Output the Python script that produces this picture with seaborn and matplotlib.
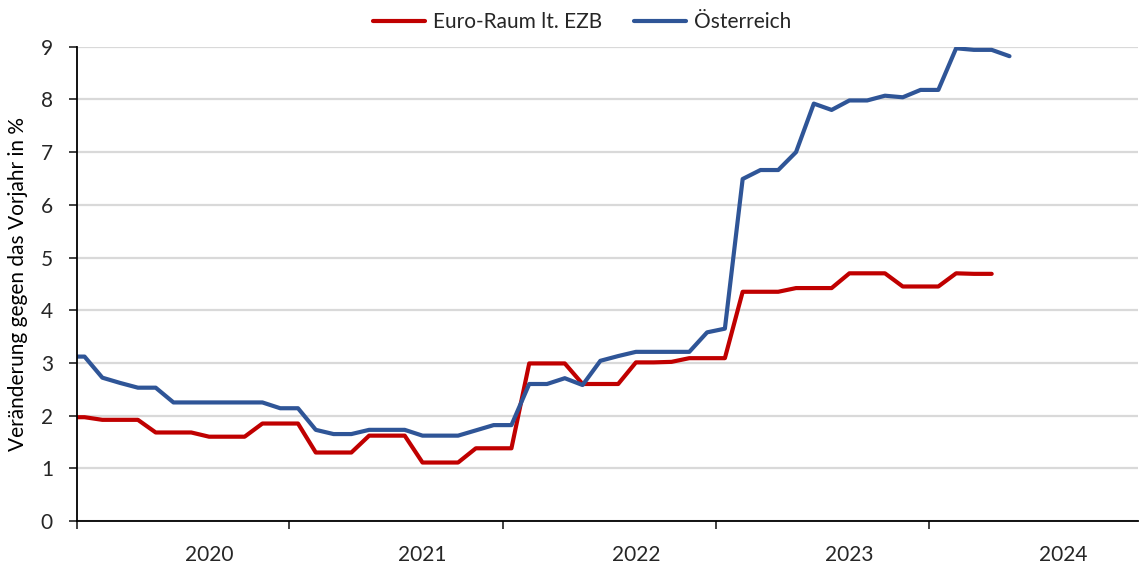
import pandas as pd
import seaborn as sns
import matplotlib.pyplot as plt
import numpy as np

# monthly index, 0 = first full month shown, year boundaries fall at 11.5, 23.5, ...
blue_vals = [3.12, 3.12, 2.72, 2.62, 2.53, 2.53, 2.25, 2.25, 2.25, 2.25, 2.25, 2.25,
             2.14, 2.14, 1.73, 1.65, 1.65, 1.73, 1.73, 1.73, 1.62, 1.62, 1.62, 1.72,
             1.82, 1.82, 2.60, 2.60, 2.71, 2.58, 3.04, 3.13, 3.21, 3.21, 3.21, 3.21,
             3.58, 3.65, 6.49, 6.66, 6.66, 7.00, 7.92, 7.80, 7.98, 7.98, 8.07, 8.04,
             8.18, 8.18, 8.97, 8.94, 8.94, 8.82]
red_vals = [1.97, 1.97, 1.92, 1.92, 1.92, 1.68, 1.68, 1.68, 1.60, 1.60, 1.60, 1.85,
            1.85, 1.85, 1.30, 1.30, 1.30, 1.62, 1.62, 1.62, 1.11, 1.11, 1.11, 1.38,
            1.38, 1.38, 2.99, 2.99, 2.99, 2.60, 2.60, 2.60, 3.01, 3.01, 3.02, 3.09,
            3.09, 3.09, 4.35, 4.35, 4.35, 4.42, 4.42, 4.42, 4.70, 4.70, 4.70, 4.45,
            4.45, 4.45, 4.70, 4.69, 4.69]
first_month = -1
years = ["2020", "2021", "2022", "2023", "2024"]
series_names = ["Euro-Raum lt. EZB", "Österreich"]

df = pd.concat([
    pd.DataFrame({"Monat": np.arange(first_month, first_month + len(red_vals)),
                  "Wert": red_vals, "Reihe": series_names[0]}),
    pd.DataFrame({"Monat": np.arange(first_month, first_month + len(blue_vals)),
                  "Wert": blue_vals, "Reihe": series_names[1]}),
])

sns.set_style("white")
plt.rcParams["font.family"] = ["Lato", "DejaVu Sans"]

my_pal = {series_names[0]: "#C00000", series_names[1]: "#2F5597"}

f, ax = plt.subplots(figsize=(11.39, 5.64), dpi=100)
f.subplots_adjust(left=0.0672, right=0.9995, bottom=0.0762, top=0.9172)

ax.grid(axis="y", color="#D9D9D9", linewidth=1.6)
ax.set_axisbelow(True)

sns.lineplot(data=df, x="Monat", y="Wert", hue="Reihe", palette=my_pal,
             linewidth=3, ax=ax, legend=False)
for ln in ax.lines:
    ln.set_solid_joinstyle("round")

ax.set_xlim(-0.45, 59.25)
ax.set_ylim(0, 9)
ax.yaxis.set_ticks(np.arange(0, 10, 1))

# year boundary ticks and year labels in between
ax.set_xticks([-0.45, 11.5, 23.5, 35.5, 47.5])
ax.set_xticklabels([])
ax.set_xticks(np.arange(len(years)) * 12 + 7, minor=True)
ax.set_xticklabels(years, minor=True)
ax.tick_params(axis="x", which="major", direction="out", length=6, width=1.3,
               color="#333333", bottom=True)
ax.tick_params(axis="x", which="minor", length=0, pad=17, labelsize=15,
               labelcolor="#262626")
ax.tick_params(axis="y", direction="out", length=6, width=1.3, color="#333333",
               left=True, pad=11, labelsize=15, labelcolor="#262626")

for s in ["top", "right"]:
    ax.spines[s].set_visible(False)
for s in ["left", "bottom"]:
    ax.spines[s].set_color("#000000")
    ax.spines[s].set_linewidth(1.3)

ax.set_xlabel("")
ax.set_ylabel("Veränderung gegen das Vorjahr in %", fontsize=15, color="#000000")
ax.yaxis.set_label_coords(-0.046, 0.5)

handles = [plt.Line2D([], [], color=my_pal[n], linewidth=3) for n in series_names]
f.legend(handles=handles, labels=series_names, frameon=False, loc="center",
         bbox_to_anchor=(0.511, 0.961), fontsize=15, ncol=2, columnspacing=1.5,
         handletextpad=0.38, handlelength=2.5)

f.savefig("out.png", dpi=100)
